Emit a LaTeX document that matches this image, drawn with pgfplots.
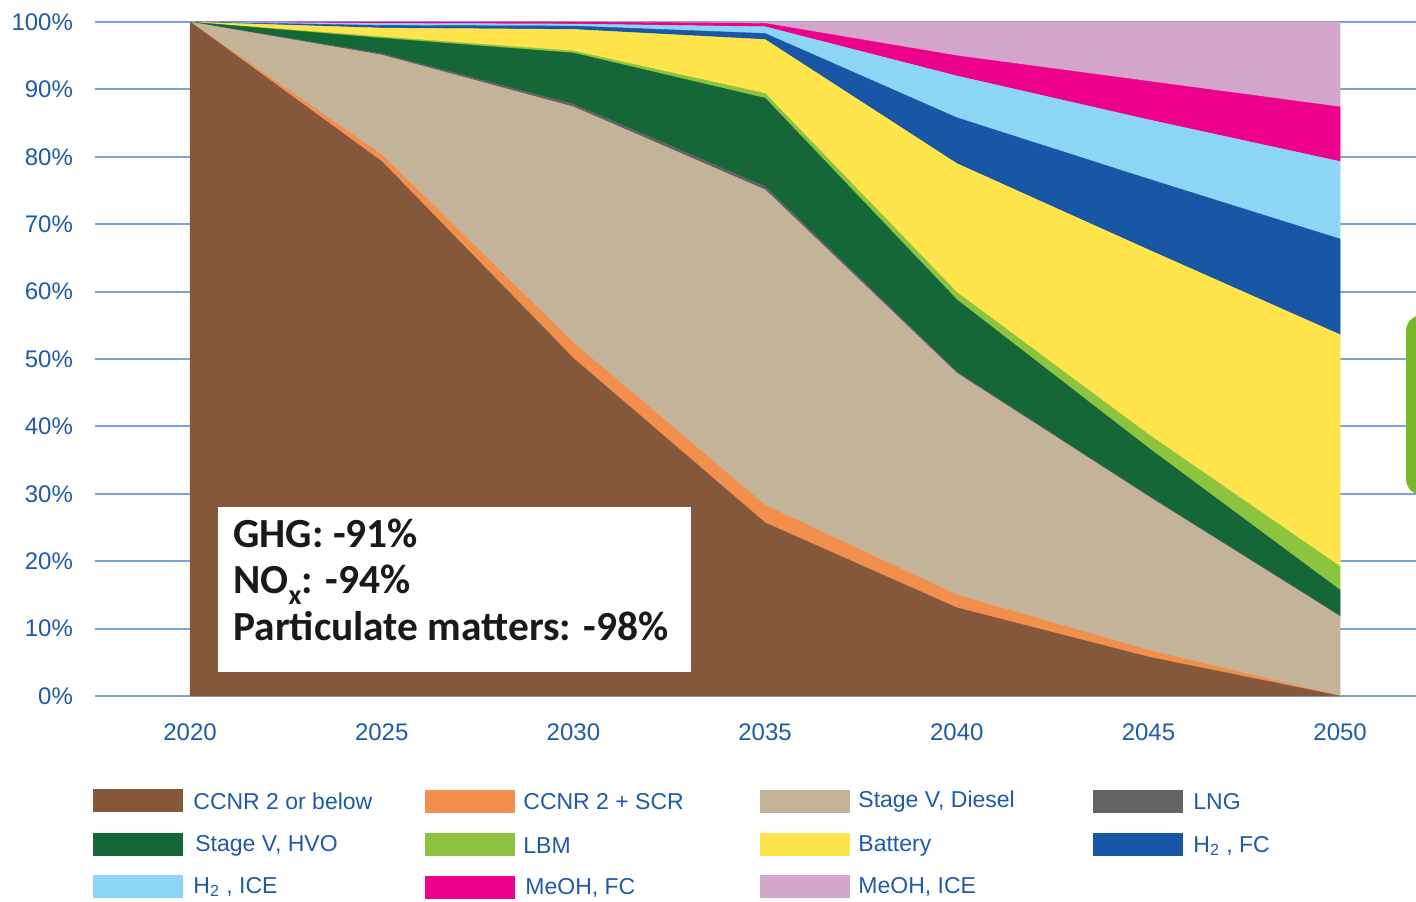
\documentclass[border=0pt]{standalone}
\usepackage{pgfplots}
\pgfplotsset{compat=1.18}
\usepackage{fontspec}
\setmainfont{Liberation Sans}
\newfontfamily\calib{Carlito}
\definecolor{cBrown}{HTML}{85573B}
\definecolor{cOrange}{HTML}{F28F4C}
\definecolor{cBeige}{HTML}{C2B399}
\definecolor{cLNG}{HTML}{636466}
\definecolor{cHVO}{HTML}{166738}
\definecolor{cLBM}{HTML}{8CC43F}
\definecolor{cBatt}{HTML}{FFE44C}
\definecolor{cH2FC}{HTML}{1856A6}
\definecolor{cH2ICE}{HTML}{8CD5F5}
\definecolor{cMeFC}{HTML}{EC008C}
\definecolor{cMeICE}{HTML}{D4A5CB}
\definecolor{gridblue}{HTML}{7BA3D6}
\definecolor{tickblue}{HTML}{1F5AA6}
\definecolor{boxgreen}{HTML}{7AB829}
\begin{document}
\begin{tikzpicture}
% horizontal grid lines, drawn first so that the areas cover them
\begin{scope}[x=0.5pt,y=-0.5pt,shift={(-47.5pt,348pt)}]
  \foreach \k in {0,...,10} {
    \draw[gridblue, line width=1pt] (95,{696-67.4*\k}) -- (1416,{696-67.4*\k});
  }
\end{scope}
\begin{axis}[
  at={(0,0)}, anchor=south west,
  scale only axis, width=660.5pt, height=337pt,
  xmin=2017.52, xmax=2051.98, ymin=0, ymax=100,
  axis line style={draw=none}, major tick style={draw=none},
  xtick={2020,2025,2030,2035,2040,2045,2050},
  xticklabels={2020,2025,2030,2035,2040,2045,2050},
  ytick={0,10,20,30,40,50,60,70,80,90,100},
  yticklabels={0\%,10\%,20\%,30\%,40\%,50\%,60\%,70\%,80\%,90\%,100\%},
  tick label style={font=\fontsize{12}{14}\selectfont, text=tickblue},
  xticklabel style={yshift=-10.5pt},
  yticklabel style={xshift=-7.5pt},
  stack plots=y, area style,
]
% CCNR 2 or below
\addplot[fill=cBrown, draw=cBrown, line width=0.2pt] coordinates {(2020,100) (2025,79.3) (2030,50.1) (2035,25.7) (2040,13.1) (2045,5.8) (2050,0)} \closedcycle;
% CCNR 2 + SCR
\addplot[fill=cOrange, draw=cOrange, line width=0.2pt] coordinates {(2020,0) (2025,1.0) (2030,2.3) (2035,2.6) (2040,1.9) (2045,1.0) (2050,0)} \closedcycle;
% Stage V, Diesel
\addplot[fill=cBeige, draw=cBeige, line width=0.2pt] coordinates {(2020,0) (2025,14.8) (2030,35.0) (2035,46.8) (2040,32.9) (2045,22.8) (2050,11.8)} \closedcycle;
% LNG
\addplot[fill=cLNG, draw=cLNG, line width=0.2pt] coordinates {(2020,0) (2025,0.2) (2030,0.4) (2035,0.5) (2040,0.2) (2045,0.1) (2050,0.1)} \closedcycle;
% Stage V, HVO
\addplot[fill=cHVO, draw=cHVO, line width=0.2pt] coordinates {(2020,0) (2025,2.3) (2030,7.6) (2035,13.1) (2040,10.7) (2045,7.1) (2050,3.8)} \closedcycle;
% LBM
\addplot[fill=cLBM, draw=cLBM, line width=0.2pt] coordinates {(2020,0) (2025,0.2) (2030,0.3) (2035,0.7) (2040,1.1) (2045,2.0) (2050,3.5)} \closedcycle;
% Battery
\addplot[fill=cBatt, draw=cBatt, line width=0.2pt] coordinates {(2020,0) (2025,1.3) (2030,3.2) (2035,8.0) (2040,19.1) (2045,27.4) (2050,34.4)} \closedcycle;
% H2, FC
\addplot[fill=cH2FC, draw=cH2FC, line width=0.2pt] coordinates {(2020,0) (2025,0.4) (2030,0.5) (2035,0.9) (2040,6.8) (2045,10.5) (2050,14.2)} \closedcycle;
% H2, ICE
\addplot[fill=cH2ICE, draw=cH2ICE, line width=0.2pt] coordinates {(2020,0) (2025,0.3) (2030,0.3) (2035,1.0) (2040,6.2) (2045,8.8) (2050,11.5)} \closedcycle;
% MeOH, FC
\addplot[fill=cMeFC, draw=cMeFC, line width=0.2pt] coordinates {(2020,0) (2025,0.2) (2030,0.3) (2035,0.5) (2040,3.0) (2045,5.7) (2050,8.1)} \closedcycle;
% MeOH, ICE
\addplot[fill=cMeICE, draw=cMeICE, line width=0.2pt] coordinates {(2020,0) (2025,0) (2030,0) (2035,0.2) (2040,5.0) (2045,8.8) (2050,12.6)} \closedcycle;
\end{axis}
\begin{scope}[x=0.5pt,y=-0.5pt,shift={(-47.5pt,348pt)}]
  % annotation box
  \fill[white] (218,507) rectangle (691,672);
  \tikzset{anno/.style={anchor=base west, inner sep=0pt, font=\calib\bfseries\fontsize{20.7}{23}\selectfont, text=black!90}}
  \node[anno] at (233,547) {GHG: -91\%};
  \node[anno] at (233,593) {NO\raisebox{-0.28em}{\fontsize{14}{15}\selectfont x}: -94\%};
  \node[anno] at (233,640) {Particulate matters: -98\%};
  % cropped green box at the right edge
  \fill[boxgreen, rounded corners=8pt] (1406,315) rectangle (1480,495);
  % legend
  \tikzset{lt/.style={anchor=west, inner sep=0pt, text=tickblue, font=\fontsize{11.5}{13}\selectfont}}
  \fill[cBrown]  (93,789) rectangle (183,812);   \node[lt] at (193,801) {CCNR 2 or below};
  \fill[cOrange] (425,790) rectangle (515,813);  \node[lt] at (523,802) {CCNR 2 + SCR};
  \fill[cBeige]  (760,790) rectangle (850,813);  \node[lt] at (858,802) {Stage V, Diesel};
  \fill[cLNG]    (1093,790) rectangle (1183,813); \node[lt] at (1193,802) {LNG};
  \fill[cHVO]    (93,833) rectangle (183,856);   \node[lt] at (195,846) {Stage V, HVO};
  \fill[cLBM]    (425,833) rectangle (515,856);  \node[lt] at (523,846) {LBM};
  \fill[cBatt]   (760,833) rectangle (850,856);  \node[lt] at (858,846) {Battery};
  \fill[cH2FC]   (1093,833) rectangle (1183,856); \node[lt] at (1193,846) {H\textsubscript{2} , FC};
  \fill[cH2ICE]  (93,875) rectangle (183,898);   \node[lt] at (193,887) {H\textsubscript{2} , ICE};
  \fill[cMeFC]   (425,876) rectangle (515,899);  \node[lt] at (525,888) {MeOH, FC};
  \fill[cMeICE]  (760,875) rectangle (850,898);  \node[lt] at (858,887) {MeOH, ICE};
  \pgfresetboundingbox
  \path[use as bounding box] (0,0) rectangle (1416,901);
\end{scope}
\end{tikzpicture}
\end{document}
